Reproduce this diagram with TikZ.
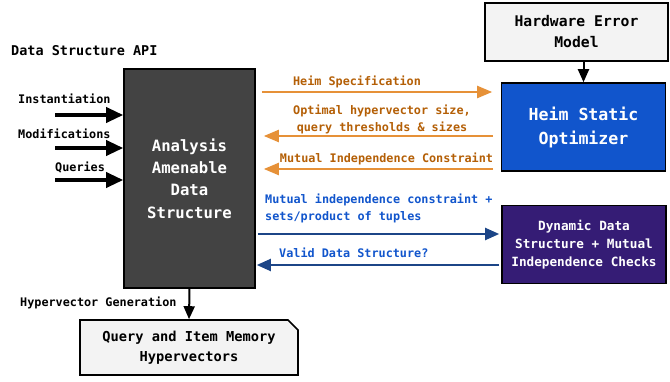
\documentclass[tikz,border=0pt]{standalone}
\usepackage{fontspec}
\setmonofont{DejaVu Sans Mono}
\usetikzlibrary{arrows.meta,positioning,shapes.misc}
\definecolor{dsgray}{HTML}{434343}
\definecolor{lightbox}{HTML}{F3F3F3}
\definecolor{optblue}{HTML}{1155CC}
\definecolor{dynpurple}{HTML}{351C75}
\definecolor{heimorange}{HTML}{E69138}
\definecolor{orangetext}{HTML}{B45F06}
\definecolor{heimnavy}{HTML}{1C4587}
\newcommand{\fsz}[2]{\ttfamily\bfseries\fontsize{#1}{#2}\selectfont}

\begin{document}
\begin{tikzpicture}[x=1pt,y=-1pt,
  box/.style = {draw, line width=1.6pt, align=center, inner sep=0pt},
  lbl/.style = {font=\fsz{11.8}{17}, inner sep=0pt},
  orarrow/.style = {draw=heimorange, line width=2.2pt, -{Triangle[length=15pt,width=12pt]}},
  blarrow/.style = {draw=heimnavy, line width=2pt, -{Triangle[length=14pt,width=12pt]}},
  inarrow/.style = {line width=3.5pt, -{Triangle[length=17pt,width=15pt]}},
  downarrow/.style = {line width=2pt, -{Triangle[length=13pt,width=11pt]}}]
	\useasboundingbox (0,0) rectangle (670,381);
	% boxes
	\node[box, fill=dsgray, text=white, minimum width=131, minimum height=219, font=\fsz{15.6}{22.3}] (ds) at (189.5,178.5) {Analysis\\Amenable\\Data\\Structure};
	\node[box, fill=lightbox, minimum width=183, minimum height=58, font=\fsz{14.7}{21}] (hw) at (576.5,32) {Hardware Error\\Model};
	\node[box, fill=optblue, text=white, minimum width=164, minimum height=88, font=\fsz{16.6}{24}] (opt) at (583.5,127) {Heim Static\\Optimizer};
	\node[box, fill=dynpurple, text=white, minimum width=164, minimum height=78, font=\fsz{12.7}{18}] (dyn) at (584,244.5) {Dynamic Data\\Structure + Mutual\\Independence Checks};
	\node[box, fill=lightbox, chamfered rectangle, chamfered rectangle corners=north east, chamfered rectangle xsep=5pt, chamfered rectangle ysep=5pt, minimum width=218, minimum height=55, font=\fsz{13.7}{20}] (mem) at (189,347.5) {Query and Item Memory\\Hypervectors};
	% api inputs
	\node[font=\fsz{13.5}{16}, anchor=base west, inner sep=0pt] (api) at (11,55) {Data Structure API};
	\node[lbl, anchor=base west] (inst) at (18,103) {Instantiation};
	\node[lbl, anchor=base west] (mods) at (18,138) {Modifications};
	\node[lbl, anchor=base west] (qry) at (55,171) {Queries};
	\coordinate (in1) at (55,115);
	\coordinate (in2) at (55,148);
	\coordinate (in3) at (55,180);
	\draw[inarrow] (in1) -- (in1 -| ds.west);
	\draw[inarrow] (in2) -- (in2 -| ds.west);
	\draw[inarrow] (in3) -- (in3 -| ds.west);
	% optimizer links
	\draw[downarrow] (hw.south -| opt.north) -- (opt.north);
	\draw[orarrow, shorten <=6pt, shorten >=8.5pt] (ds.east |- 0,92) -- (opt.west |- 0,92);
	\draw[orarrow, shorten <=7.5pt, shorten >=8pt] (opt.west |- 0,136) -- (ds.east |- 0,136);
	\draw[orarrow, shorten <=7.5pt, shorten >=8pt] (opt.west |- 0,169) -- (ds.east |- 0,169);
	\node[lbl, text=orangetext, anchor=base] (spec) at (357,85) {Heim Specification};
	\node[lbl, text=orangetext, anchor=north, align=center] (sizes) at (382,105) {Optimal hypervector size,\\query thresholds \& sizes};
	\node[lbl, text=orangetext, anchor=base] (mic) at (386.5,162) {Mutual Independence Constraint};
	% dynamic checks links
	\draw[blarrow, shorten <=2pt, shorten >=2pt] (ds.east |- 0,234) -- (dyn.west |- 0,234);
	\draw[blarrow, shorten <=2pt, shorten >=1pt] (dyn.west |- 0,265) -- (ds.east |- 0,265);
	\node[lbl, text=optblue, anchor=north west, align=left] (tuples) at (265,194) {Mutual independence constraint +\\sets/product of tuples};
	\node[lbl, text=optblue, anchor=base west] (valid) at (279,257) {Valid Data Structure?};
	% hypervectors
	\draw[downarrow] (ds.south) -- (mem.north);
	\node[lbl, anchor=base west] (gen) at (20,306) {Hypervector Generation};
\end{tikzpicture}
\end{document}
